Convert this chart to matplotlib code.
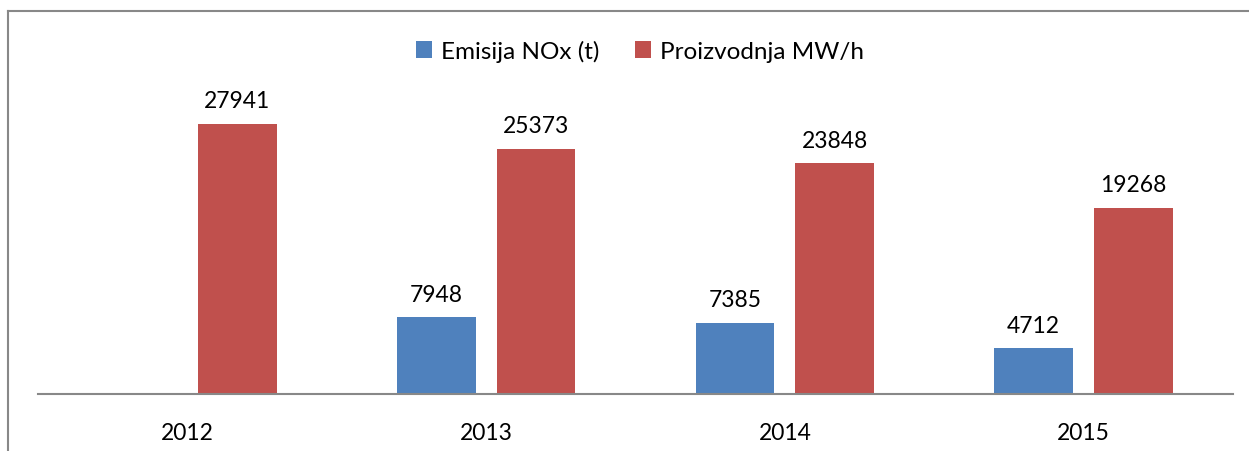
import matplotlib
matplotlib.use("Agg")
import matplotlib.pyplot as plt
from matplotlib.lines import Line2D
from matplotlib.patches import Patch
import numpy as np

categories = ["2012", "2013", "2014", "2015"]
emisija_nox = [None, 7948, 7385, 4712]
proizvodnja = [27941, 25373, 23848, 19268]
series_names = ["Emisija NOx (t)", "Proizvodnja MW/h"]
colors = ["#4F81BD", "#C0504D"]

plt.rcParams['font.family'] = ['Lato', 'DejaVu Sans']

W, H = 1249, 452
fig = plt.figure(figsize=(W / 100, H / 100), dpi=100)
ax = fig.add_axes([38 / W, (H - 395) / H, (1233 - 38) / W, (395 - 105) / H])

x = np.arange(len(categories))
bw = 0.264
off = 0.167
for i, (vals, c) in enumerate(zip([emisija_nox, proizvodnja], colors)):
    xs = x - off if i == 0 else x + off
    for xi, v in zip(xs, vals):
        if v is None:
            continue
        ax.bar(xi, v, width=bw, color=c, edgecolor='none')
        ax.text(xi, v + 1300, str(v), ha='center', va='bottom', fontsize=16.5, color='black')

ax.set_xlim(-0.5, len(categories) - 0.5)
ax.set_ylim(0, 30000)
ax.set_yticks([])
ax.set_xticks(x)
ax.set_xticklabels(categories, fontsize=16.5)
ax.tick_params(axis='x', length=0, pad=20)
for s in ['top', 'right', 'left']:
    ax.spines[s].set_visible(False)
ax.spines['bottom'].set_color('#888888')
ax.spines['bottom'].set_linewidth(1.5)

handles = [Patch(facecolor=c, edgecolor='none') for c in colors]
fig.legend(handles, series_names, loc='center', bbox_to_anchor=(640 / W, 1 - 52 / H),
           ncol=2, frameon=False, fontsize=17.5, handlelength=0.65, handleheight=0.65,
           handletextpad=0.35, columnspacing=1.5)

# outer chart frame (partially visible)
fig.add_artist(Line2D([8 / W, 8 / W], [0, 1 - 12 / H], transform=fig.transFigure, color='#888888', lw=1.5))
fig.add_artist(Line2D([8 / W, 1], [1 - 12 / H, 1 - 12 / H], transform=fig.transFigure, color='#888888', lw=1.5))

fig.savefig("out.png", dpi=100)
